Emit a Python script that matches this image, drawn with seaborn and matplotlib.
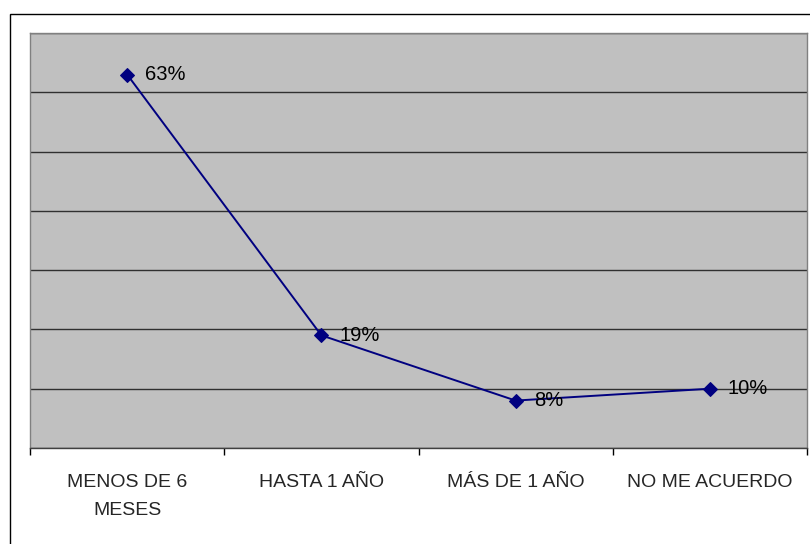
import matplotlib
matplotlib.use("Agg")
import matplotlib.pyplot as plt
import matplotlib.patches as patches
from matplotlib.ticker import FixedLocator, MultipleLocator
import seaborn as sns

# --- datos ---
categorias = ["MENOS DE 6\nMESES", "HASTA 1 AÑO", "MÁS DE 1 AÑO", "NO ME ACUERDO"]
porcentajes = [63, 19, 8, 10]

sns.set_style("white")
plt.rcParams["font.family"] = ["Liberation Sans", "DejaVu Sans"]

fig = plt.figure(figsize=(8.1, 5.44), dpi=100)
ax = fig.add_axes([30 / 810, 96 / 544, 777 / 810, 415 / 544])

sns.lineplot(x=categorias, y=porcentajes, sort=False, ax=ax, color="#000080",
             linewidth=1.4, marker="D", markersize=7,
             markeredgecolor="#000080", markerfacecolor="#000080")

ax.set_facecolor("#C0C0C0")
ax.set_xlim(-0.5, 3.5)
ax.set_ylim(0, 70)
ax.yaxis.set_major_locator(MultipleLocator(10))
ax.set_yticklabels([])
ax.tick_params(axis="y", length=0)
ax.grid(axis="y", color="#303030", linewidth=1)
ax.set_axisbelow(True)

# marcas entre categorias
ax.xaxis.set_minor_locator(FixedLocator([-0.5, 0.5, 1.5, 2.5, 3.5]))
ax.tick_params(axis="x", which="minor", length=5, width=1, color="black", bottom=True)
ax.tick_params(axis="x", which="major", length=0, pad=19, labelsize=14)
for lbl in ax.get_xticklabels():
    lbl.set_linespacing(1.8)

for s in ["top", "right", "left"]:
    ax.spines[s].set_color("#808080")
    ax.spines[s].set_linewidth(1)
ax.spines["bottom"].set_color("#404040")
ax.spines["bottom"].set_linewidth(1)
ax.set_xlabel("")
ax.set_ylabel("")

for i, v in enumerate(porcentajes):
    ax.annotate(f"{v}%", (i, v), xytext=(13, 0), textcoords="offset points",
                va="center", ha="left", fontsize=14.5, color="black")

# borde exterior del grafico
fig.patches.append(patches.Rectangle((10 / 810, -0.1), 1.0, (530 / 544) + 0.1,
                                     transform=fig.transFigure, fill=False,
                                     edgecolor="black", linewidth=1))

fig.savefig("out.png", dpi=100)
